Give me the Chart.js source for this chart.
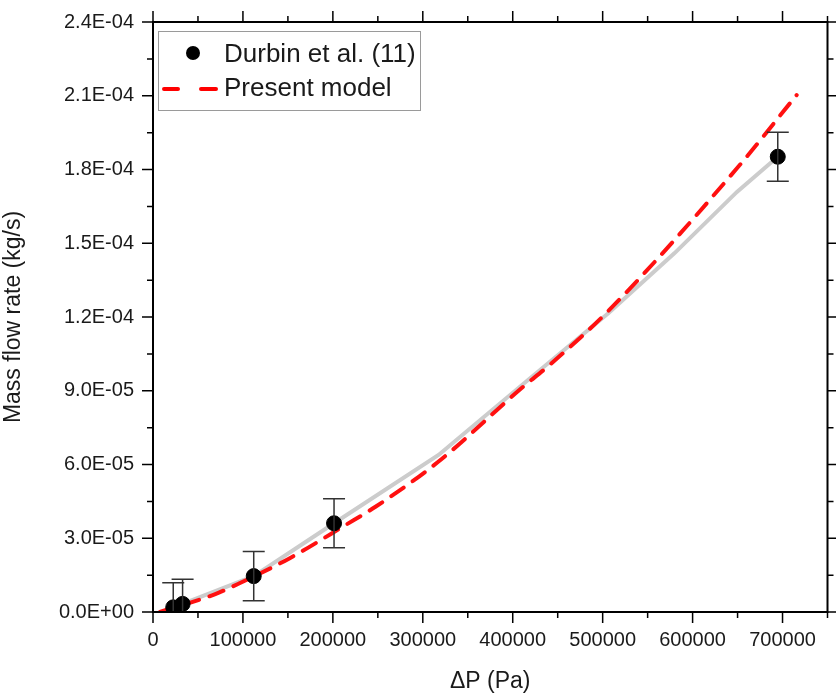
<!DOCTYPE html>
<html>
<head>
<meta charset="utf-8">
<script src="https://cdn.jsdelivr.net/npm/chart.js@4.4.0/dist/chart.umd.min.js"></script>
<style>
  html, body { margin: 0; padding: 0; background: #fff; }
</style>
</head>
<body>
<canvas id="flowChart" width="836" height="695"></canvas>
<script>
// Durbin et al. measurements, with +/- error
var durbinDP = [22500, 32900, 112000, 201300, 694700];
var durbinFlow = [1.9e-6, 3.3e-6, 1.46e-5, 3.61e-5, 1.852e-4];
var durbinErr = [1.0e-5, 1.0e-5, 1.0e-5, 1.0e-5, 1.0e-5];

// grey trend line through the measurements
var trendDP = [32900, 112000, 201300, 317500, 417000, 506600, 580000, 649300, 694700];
var trendFlow = [3.3e-6, 1.46e-5, 3.61e-5, 6.39e-5, 9.44e-5, 1.216e-4, 1.46e-4, 1.709e-4, 1.852e-4];

// present model
var modelDP = [7700, 68600, 96200, 151600, 214200, 247400, 317500, 409600, 441000, 507400, 649300, 715700];
var modelFlow = [0, 7.2e-6, 1.17e-5, 2.18e-5, 3.54e-5, 4.28e-5, 6.12e-5, 9.1e-5, 1.005e-4, 1.229e-4, 1.805e-4, 2.103e-4];

var xTicks = [0, 100000, 200000, 300000, 400000, 500000, 600000, 700000];
var yTicks = [0, 3e-5, 6e-5, 9e-5, 1.2e-4, 1.5e-4, 1.8e-4, 2.1e-4, 2.4e-4];

var FONT = "'Liberation Sans', Arial, sans-serif";
var TEXT = "#1a1a1a";

function sci(v) {
    if (v === 0) return "0.0E+00";
    var e = Math.floor(Math.log10(v) + 1e-9);
    var m = (v / Math.pow(10, e)).toFixed(1);
    return m + "E" + (e < 0 ? "-" : "+") + String(Math.abs(e)).padStart(2, "0");
}

function pts(xs, ys) {
    return xs.map(function (x, i) { return { x: x, y: ys[i] }; });
}

// frame with mirrored major/minor ticks, error bars and the inset legend
var framePlugin = {
    id: "frame",
    afterDatasetsDraw: function (chart) {
        var ctx = chart.ctx, a = chart.chartArea;
        var xs = chart.scales.x, ys = chart.scales.y;
        ctx.save();

        // error bars
        ctx.strokeStyle = "#333";
        ctx.lineWidth = 1.5;
        durbinDP.forEach(function (x, i) {
            var px = xs.getPixelForValue(x);
            var top = ys.getPixelForValue(durbinFlow[i] + durbinErr[i]);
            var bot = Math.min(ys.getPixelForValue(durbinFlow[i] - durbinErr[i]), a.bottom);
            ctx.beginPath();
            ctx.moveTo(px, top); ctx.lineTo(px, bot);
            ctx.moveTo(px - 11, top); ctx.lineTo(px + 11, top);
            if (bot < a.bottom) { ctx.moveTo(px - 11, bot); ctx.lineTo(px + 11, bot); }
            ctx.stroke();
        });

        // box
        ctx.strokeStyle = "#000";
        ctx.lineWidth = 2;
        ctx.strokeRect(a.left, a.top, a.right - a.left, a.bottom - a.top);

        ctx.lineWidth = 1.5;
        ctx.beginPath();
        for (var v = 0; v <= xs.max + 1; v += 50000) {
            var px = xs.getPixelForValue(v);
            var len = (v % 100000 === 0) ? 11 : 6;
            ctx.moveTo(px, a.bottom); ctx.lineTo(px, a.bottom + len);
            ctx.moveTo(px, a.top); ctx.lineTo(px, a.top - len);
        }
        for (var k = 0; k <= 16; k++) {
            var py = ys.getPixelForValue(k * 1.5e-5);
            var l2 = (k % 2 === 0) ? 11 : 6;
            ctx.moveTo(a.left, py); ctx.lineTo(a.left - l2, py);
            ctx.moveTo(a.right, py); ctx.lineTo(a.right + l2, py);
        }
        ctx.stroke();

        // legend
        ctx.strokeStyle = "#9a9a9a";
        ctx.lineWidth = 1;
        ctx.strokeRect(158.5, 31.5, 262, 79);
        ctx.fillStyle = "#000";
        ctx.beginPath();
        ctx.arc(193, 53, 7, 0, Math.PI * 2);
        ctx.fill();
        ctx.strokeStyle = "#ff0000";
        ctx.lineWidth = 4;
        ctx.lineCap = "round";
        ctx.beginPath();
        ctx.moveTo(164, 89); ctx.lineTo(178, 89);
        ctx.moveTo(201, 89); ctx.lineTo(216, 89);
        ctx.stroke();
        ctx.fillStyle = TEXT;
        ctx.font = "26px " + FONT;
        ctx.textBaseline = "middle";
        ctx.fillText("Durbin et al. (11)", 224, 55);
        ctx.fillText("Present model", 224, 89);
        ctx.restore();
    }
};

var ctx = document.getElementById("flowChart").getContext("2d");

var flowChart = new Chart(ctx, {
    type: "scatter",
    data: {
        datasets: [
            {
                label: "Durbin et al. (11)",
                data: pts(durbinDP, durbinFlow),
                backgroundColor: "#000",
                borderColor: "#000",
                pointRadius: 7.5,
                showLine: false,
                order: 0,
            },
            {
                label: "Present model",
                data: pts(modelDP, modelFlow),
                borderColor: "#ff1010",
                borderWidth: 4,
                borderDash: [15, 11],
                borderCapStyle: "round",
                pointRadius: 0,
                showLine: true,
                cubicInterpolationMode: "monotone",
                order: 1,
            },
            {
                label: "trend",
                data: pts(trendDP, trendFlow),
                borderColor: "#cccccc",
                borderWidth: 4,
                pointRadius: 0,
                showLine: true,
                tension: 0,
                order: 2,
            },
        ],
    },
    options: {
        responsive: false,
        animation: false,
        devicePixelRatio: 1,
        layout: { padding: { top: 22, right: 5, left: 0, bottom: 0 } },
        plugins: {
            legend: { display: false },
            tooltip: { enabled: false },
        },
        scales: {
            x: {
                type: "linear",
                min: 0,
                max: 750000,
                // tick marks themselves are drawn by the frame plugin; tickLength only reserves space
                grid: { display: false, drawTicks: true, tickLength: 12 },
                border: { display: false },
                afterBuildTicks: function (s) { s.ticks = xTicks.map(function (v) { return { value: v }; }); },
                afterFit: function (s) { s.height = 83; },
                ticks: {
                    color: TEXT,
                    font: { family: FONT, size: 20 },
                    padding: 4,
                    maxRotation: 0,
                    callback: function (v) { return String(v); },
                },
                title: {
                    display: true,
                    text: "ΔP (Pa)",
                    color: TEXT,
                    font: { family: FONT, size: 23 },
                    padding: { top: 0, bottom: 0 },
                },
            },
            y: {
                type: "linear",
                min: 0,
                max: 2.4e-4,
                grid: { display: false, drawTicks: true, tickLength: 15 },
                border: { display: false },
                afterBuildTicks: function (s) { s.ticks = yTicks.map(function (v) { return { value: v }; }); },
                afterFit: function (s) { s.width = 153; },
                ticks: {
                    color: TEXT,
                    font: { family: FONT, size: 20 },
                    padding: 4,
                    callback: function (v) { return sci(v); },
                },
                title: {
                    display: true,
                    text: "Mass flow rate (kg/s)",
                    color: TEXT,
                    font: { family: FONT, size: 23 },
                    padding: { top: 0, bottom: 8 },
                },
            },
        },
    },
    plugins: [framePlugin],
});
</script>
</body>
</html>
